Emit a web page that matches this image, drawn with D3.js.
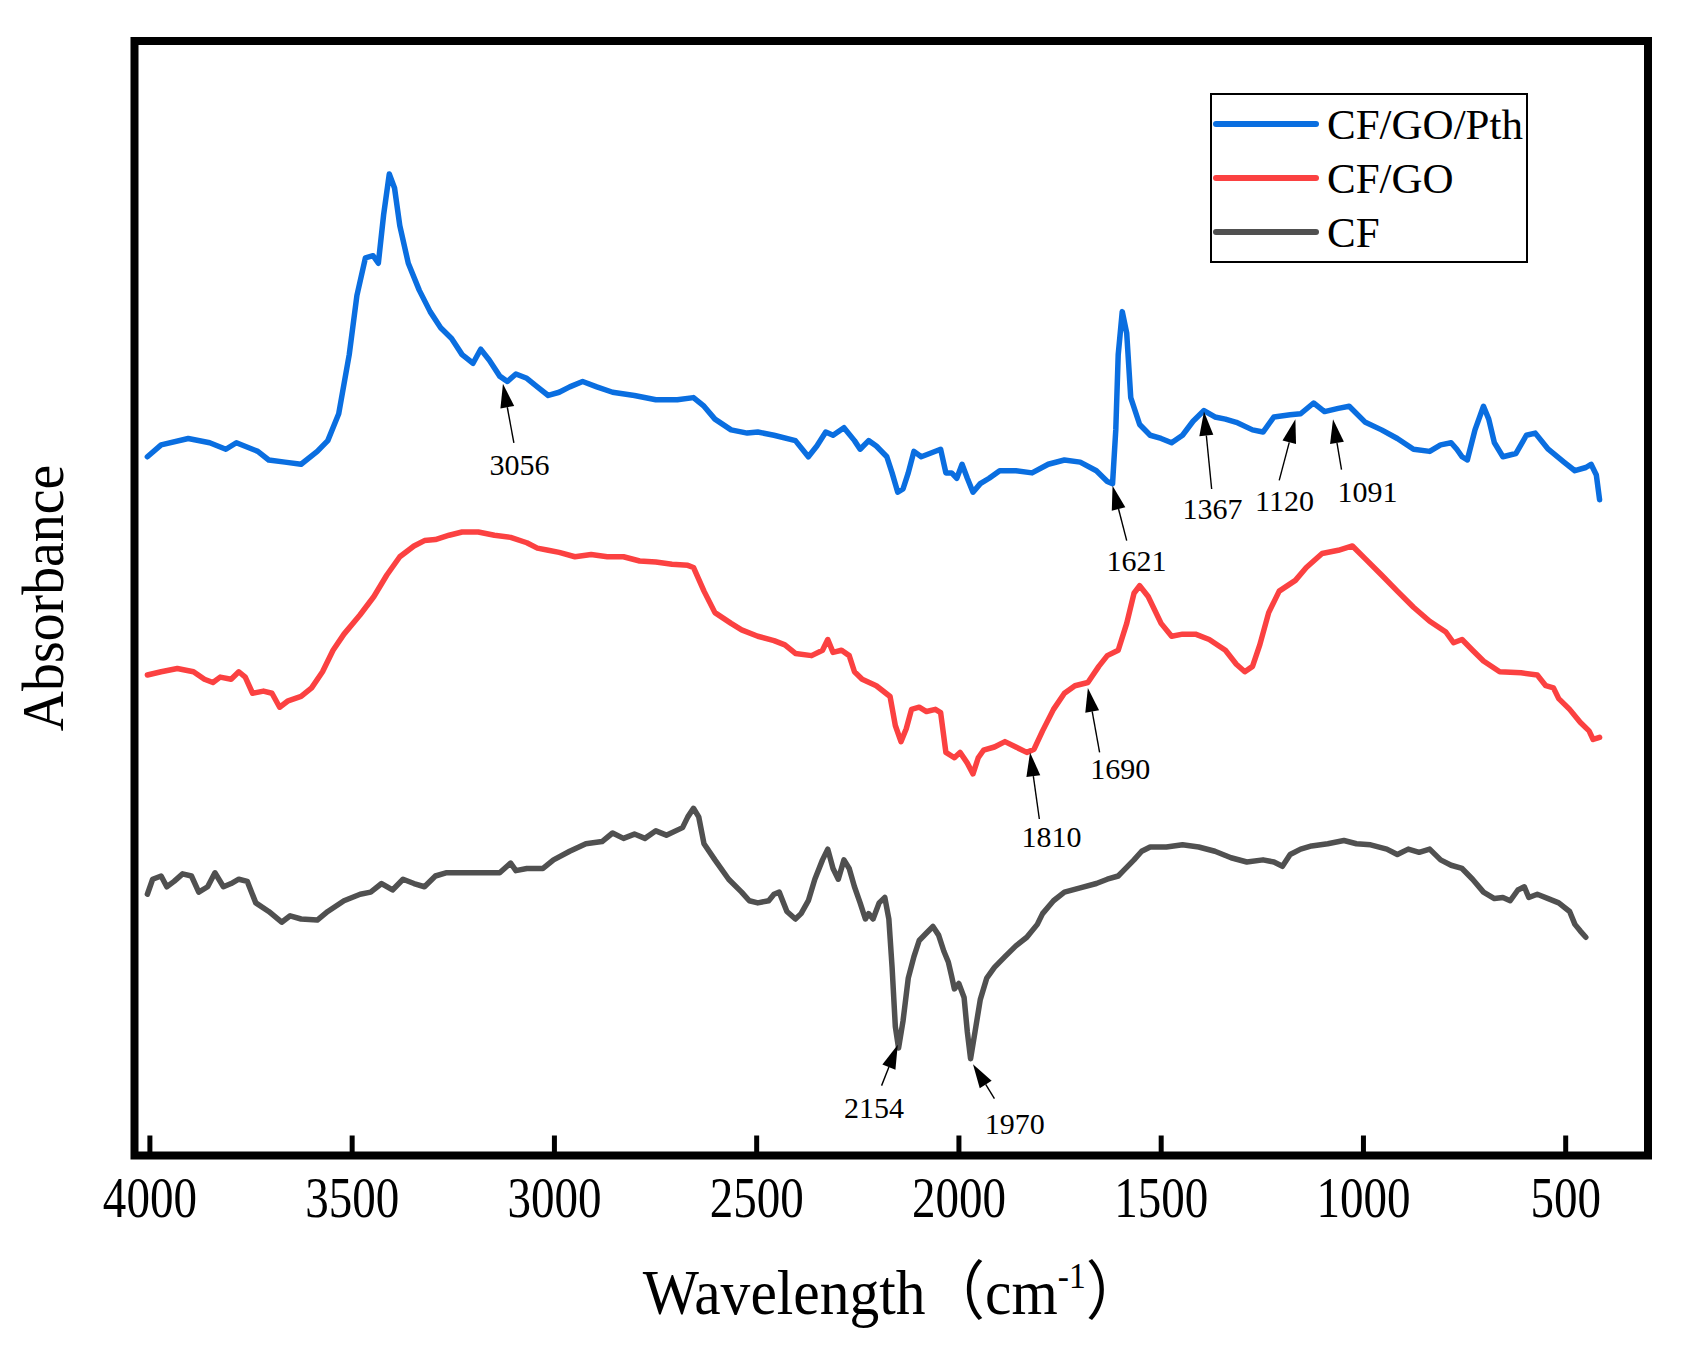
<!DOCTYPE html>
<html>
<head>
<meta charset="utf-8">
<script src="https://cdnjs.cloudflare.com/ajax/libs/d3/7.8.5/d3.min.js"></script>
<style>
  body { margin: 0; background: #fff; }
</style>
</head>
<body>
<div class="box"></div>
<script>
// spectres : [nombre d'onde (cm-1), absorbance (u.a.)]
const cfGoPth = [
  [4005,.650],[3971,.661],[3904,.667],[3851,.663],[3811,.657],[3785,.663],[3732,.655],[3705,.647],
  [3665,.645],[3625,.643],[3585,.655],[3559,.665],[3532,.690],[3506,.745],[3487,.800],[3466,.835],
  [3447,.837],[3434,.830],[3421,.875],[3407,.913],[3394,.900],[3381,.865],[3360,.830],[3333,.805],
  [3306,.785],[3280,.770],[3253,.760],[3227,.745],[3200,.737],[3181,.750],[3160,.740],[3134,.725],
  [3115,.720],[3094,.727],[3067,.723],[3041,.715],[3014,.707],[2987,.710],[2961,.715],[2929,.720],
  [2894,.715],[2855,.710],[2801,.707],[2748,.703],[2695,.703],[2655,.705],[2629,.697],[2602,.685],
  [2562,.675],[2522,.672],[2496,.673],[2456,.670],[2403,.665],[2371,.650],[2350,.660],[2328,.673],
  [2310,.670],[2283,.677],[2257,.665],[2243,.657],[2222,.665],[2203,.660],[2177,.650],[2164,.635],
  [2150,.617],[2137,.620],[2124,.635],[2110,.655],[2092,.650],[2071,.653],[2044,.657],[2031,.635],
  [2017,.635],[2004,.630],[1991,.643],[1978,.630],[1964,.617],[1946,.625],[1924,.630],[1898,.637],
  [1858,.637],[1818,.635],[1778,.643],[1738,.647],[1699,.645],[1659,.637],[1632,.627],[1619,.625],
  [1611,.675],[1605,.745],[1595,.785],[1584,.765],[1574,.705],[1552,.680],[1526,.670],[1499,.667],
  [1473,.663],[1446,.670],[1420,.683],[1393,.693],[1366,.687],[1340,.685],[1313,.682],[1273,.675],
  [1247,.673],[1220,.687],[1180,.689],[1154,.690],[1122,.700],[1095,.692],[1061,.695],[1034,.697],
  [994,.682],[954,.675],[915,.667],[875,.657],[835,.655],[808,.661],[782,.663],[768,.657],
  [755,.650],[742,.647],[723,.675],[702,.697],[689,.685],[675,.663],[654,.650],[622,.653],
  [596,.670],[574,.672],[542,.657],[503,.645],[476,.637],[449,.640],[436,.643],[423,.633],[415,.610]
];

const cfGo = [
  [4005,.447],[3971,.450],[3931,.453],[3891,.450],[3864,.443],[3843,.440],[3825,.445],[3798,.443],
  [3779,.450],[3763,.445],[3745,.430],[3718,.432],[3697,.430],[3678,.417],[3657,.423],[3625,.427],
  [3599,.435],[3572,.450],[3546,.470],[3519,.485],[3479,.503],[3445,.520],[3413,.540],[3381,.557],
  [3346,.567],[3320,.572],[3293,.573],[3259,.577],[3227,.580],[3187,.580],[3147,.577],[3107,.575],
  [3067,.570],[3041,.565],[3014,.563],[2987,.561],[2948,.557],[2908,.559],[2868,.557],[2828,.557],
  [2788,.553],[2748,.552],[2708,.550],[2669,.549],[2655,.547],[2629,.525],[2602,.505],[2562,.495],
  [2536,.489],[2496,.483],[2456,.479],[2429,.475],[2403,.467],[2363,.465],[2336,.470],[2323,.480],
  [2310,.468],[2289,.470],[2270,.465],[2257,.450],[2238,.443],[2203,.437],[2169,.427],[2156,.400],
  [2142,.385],[2129,.397],[2116,.415],[2097,.417],[2079,.413],[2057,.415],[2044,.412],[2031,.375],
  [2010,.370],[1996,.375],[1978,.365],[1964,.355],[1951,.370],[1938,.377],[1911,.380],[1885,.385],
  [1858,.380],[1831,.375],[1813,.378],[1792,.395],[1765,.415],[1738,.430],[1712,.437],[1680,.440],
  [1653,.455],[1632,.465],[1605,.470],[1584,.495],[1566,.523],[1552,.530],[1531,.520],[1499,.495],
  [1473,.483],[1446,.485],[1414,.485],[1380,.480],[1340,.470],[1313,.457],[1292,.450],[1273,.455],
  [1255,.475],[1233,.505],[1207,.525],[1167,.535],[1140,.547],[1101,.560],[1061,.563],[1026,.567],
  [994,.555],[954,.540],[915,.525],[875,.510],[835,.497],[795,.487],[776,.477],[755,.480],
  [729,.470],[702,.460],[662,.450],[609,.449],[569,.447],[548,.437],[529,.435],[516,.425],
  [489,.415],[463,.403],[441,.395],[431,.387],[415,.389]
];

const cf = [
  [4005,.243],[3992,.257],[3971,.260],[3957,.250],[3939,.255],[3918,.262],[3896,.260],[3878,.245],
  [3856,.250],[3838,.263],[3817,.250],[3798,.253],[3779,.257],[3758,.255],[3737,.235],[3705,.227],
  [3673,.217],[3652,.223],[3625,.220],[3585,.219],[3559,.227],[3519,.237],[3479,.243],[3453,.245],
  [3426,.253],[3399,.247],[3373,.257],[3346,.253],[3320,.250],[3293,.260],[3267,.263],[3227,.263],
  [3174,.263],[3134,.263],[3107,.272],[3094,.265],[3067,.267],[3027,.267],[3001,.275],[2961,.283],
  [2921,.290],[2881,.292],[2855,.300],[2828,.295],[2801,.299],[2775,.295],[2748,.302],[2722,.298],
  [2682,.305],[2669,.315],[2655,.323],[2642,.315],[2629,.290],[2602,.275],[2568,.257],[2536,.245],
  [2517,.237],[2496,.235],[2469,.237],[2456,.243],[2443,.245],[2424,.227],[2403,.220],[2389,.225],
  [2371,.237],[2355,.257],[2336,.275],[2323,.285],[2310,.267],[2297,.257],[2283,.275],[2270,.267],
  [2257,.250],[2243,.235],[2230,.220],[2222,.225],[2211,.220],[2196,.235],[2182,.240],[2172,.220],
  [2164,.175],[2156,.120],[2148,.100],[2137,.125],[2124,.165],[2110,.185],[2097,.200],[2079,.207],
  [2063,.213],[2049,.205],[2036,.190],[2025,.180],[2017,.167],[2010,.155],[1999,.160],[1986,.147],
  [1978,.115],[1970,.090],[1959,.115],[1946,.145],[1930,.165],[1911,.175],[1885,.185],[1858,.195],
  [1831,.203],[1805,.215],[1792,.225],[1765,.237],[1738,.245],[1699,.249],[1659,.253],[1632,.257],
  [1605,.260],[1592,.265],[1566,.275],[1547,.283],[1526,.287],[1486,.287],[1446,.289],[1406,.287],
  [1366,.283],[1326,.277],[1287,.273],[1247,.275],[1220,.273],[1199,.269],[1180,.280],[1154,.285],
  [1127,.288],[1087,.290],[1047,.293],[1016,.290],[981,.289],[941,.285],[915,.280],[888,.285],
  [861,.282],[835,.285],[808,.275],[782,.270],[755,.267],[729,.257],[702,.245],[675,.239],
  [654,.240],[636,.237],[617,.247],[601,.250],[590,.240],[569,.243],[542,.239],[516,.235],
  [489,.227],[476,.215],[463,.209],[449,.203]
];

const seriesNames = ['CF/GO/Pth', 'CF/GO', 'CF'];
const seriesColors = ['#0a6ee0', '#fb4141', '#505050'];
const xTicks = [4000, 3500, 3000, 2500, 2000, 1500, 1000, 500];

// annotations des pics : texte, pointe de la flèche, départ de la flèche, position du texte
const peakLabels = ['3056', '1621', '1367', '1120', '1091', '1810', '1690', '2154', '1970'];
const peakTips   = [[3126,.718],[1619,.623],[1393,.692],[1167,.685],[1074,.685],[1823,.375],[1680,.435],[2150,.103],[1964,.085]];
const peakTails  = [[3099,.663],[1584,.572],[1374,.620],[1207,.628],[1053,.638],[1800,.313],[1651,.375],[2190,.065],[1911,.053]];
const peakText   = [[3085,.633],[1560,.544],[1372,.592],[1194,.600],[989,.608],[1770,.287],[1600,.350],[2209,.035],[1861,.020]];

const dims = {width: 1685, height: 1353};
const frame = {left: 134.5, right: 1648, top: 41, bottom: 1155.5};
const serif = "'Liberation Serif', 'Times New Roman', 'Noto Sans CJK SC', serif";

const svg = d3.select('.box')
              .append('svg')
              .attr('width', dims.width)
              .attr('height', dims.height)
              .style('font-family', serif);

const x = d3.scaleLinear().domain([4000, 500]).range([149.4, 1565.2]);
const y = d3.scaleLinear().domain([0, 1]).range([frame.bottom, frame.bottom - 1075]);

const line = d3.line()
               .x(d => x(d[0]))
               .y(d => y(d[1]));

// courbes
const spectra = [cfGoPth, cfGo, cf];
svg.append('g')
   .selectAll('path')
   .data(spectra)
   .join('path')
   .attr('d', line)
   .attr('fill', 'none')
   .attr('stroke', (d, i) => seriesColors[i])
   .attr('stroke-width', 5.5)
   .attr('stroke-linejoin', 'round')
   .attr('stroke-linecap', 'round');

// flèches
const arrows = svg.append('g');
peakLabels.forEach((lab, i) => {
    const tx = x(peakTips[i][0]), ty = y(peakTips[i][1]);
    const sx = x(peakTails[i][0]), sy = y(peakTails[i][1]);
    const len = Math.hypot(tx - sx, ty - sy);
    const ux = (tx - sx) / len, uy = (ty - sy) / len;
    const hl = 24, hw = 7;
    const bx = tx - ux * hl, by = ty - uy * hl;
    arrows.append('line')
          .attr('x1', sx).attr('y1', sy)
          .attr('x2', bx).attr('y2', by)
          .attr('stroke', '#000')
          .attr('stroke-width', 1.4);
    arrows.append('path')
          .attr('d', `M${tx},${ty}L${bx - uy * hw},${by + ux * hw}L${bx + uy * hw},${by - ux * hw}Z`)
          .attr('fill', '#000');
    arrows.append('text')
          .attr('x', x(peakText[i][0]))
          .attr('y', y(peakText[i][1]))
          .attr('text-anchor', 'middle')
          .attr('font-size', 30)
          .text(lab);
});

// axe x
const xAxis = d3.axisBottom(x)
                .tickValues(xTicks)
                .tickSize(-20)
                .tickFormat(d3.format('d'));

const gx = svg.append('g')
              .attr('transform', `translate(0, ${frame.bottom})`)
              .call(xAxis);

gx.select('.domain').remove();
gx.selectAll('.tick line')
  .attr('stroke', '#000')
  .attr('stroke-width', 5);
gx.selectAll('.tick text')
  .attr('y', 62)
  .attr('dy', null)
  .attr('font-size', 56)
  .attr('font-family', serif)
  .attr('fill', '#000')
  .attr('transform', 'scale(0.84,1)');

// cadre
svg.append('rect')
   .attr('x', frame.left)
   .attr('y', frame.top)
   .attr('width', frame.right - frame.left)
   .attr('height', frame.bottom - frame.top)
   .attr('fill', 'none')
   .attr('stroke', '#000')
   .attr('stroke-width', 8);

// titres des axes
const xTitle = svg.append('text')
                  .attr('transform', `translate(894, 1314) scale(0.93,1)`)
                  .attr('text-anchor', 'middle')
                  .attr('font-size', 64);
xTitle.append('tspan').text('Wavelength（cm');
xTitle.append('tspan').attr('dy', -26).attr('font-size', 36).text('-1');
xTitle.append('tspan').attr('dy', 26).text('）');

svg.append('text')
   .attr('transform', 'translate(63, 598) rotate(-90) scale(0.93,1)')
   .attr('text-anchor', 'middle')
   .attr('font-size', 60)
   .text('Absorbance');

// légende
const legend = svg.append('g');
legend.append('rect')
      .attr('x', 1211).attr('y', 94)
      .attr('width', 316).attr('height', 168)
      .attr('fill', '#fff')
      .attr('stroke', '#000')
      .attr('stroke-width', 2);

seriesNames.forEach((name, i) => {
    const ly = 124 + i * 54;
    legend.append('line')
          .attr('x1', 1216).attr('x2', 1316)
          .attr('y1', ly).attr('y2', ly)
          .attr('stroke', seriesColors[i])
          .attr('stroke-width', 6)
          .attr('stroke-linecap', 'round');
    legend.append('text')
          .attr('x', 1327)
          .attr('y', ly + 15)
          .attr('font-size', 43)
          .text(name);
});
</script>
</body>
</html>
